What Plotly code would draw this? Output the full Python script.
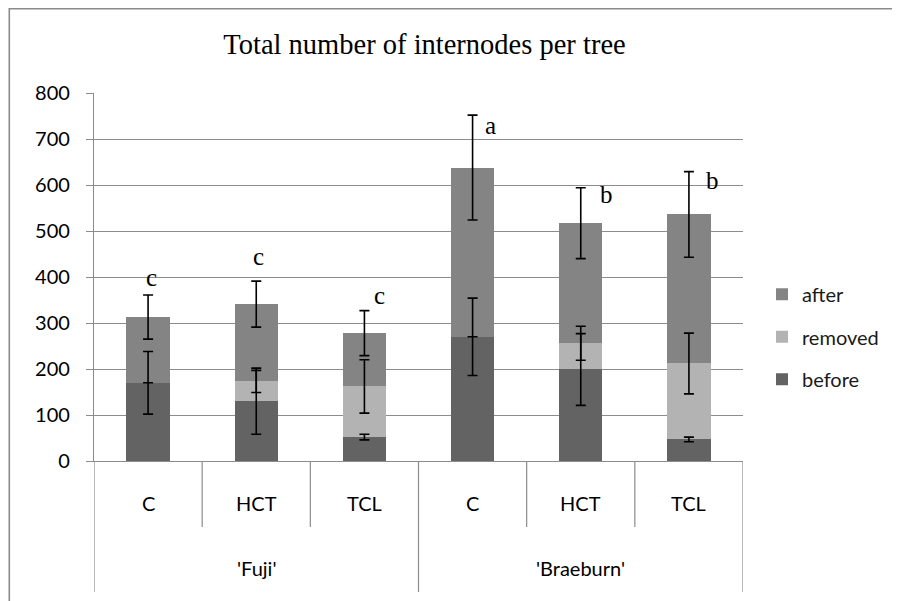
import plotly.graph_objects as go

# ---- data ----
cultivars = ["'Fuji'", "'Braeburn'"]
treatments = ["C", "HCT", "TCL"]
categories = ["Fuji C", "Fuji HCT", "Fuji TCL", "Braeburn C", "Braeburn HCT", "Braeburn TCL"]

before = [170, 130, 52, 270, 199, 47]
before_err = [68, 72, 6, 84, 78, 5]
removed = [0, 43, 110, 0, 57, 165]
removed_err = [0, 24, 58, 0, 37, 66]
after = [143, 168, 116, 368, 261, 324]
after_err = [48, 50, 49, 114, 77, 93]

letters = ["c", "c", "c", "a", "b", "b"]
letter_y = [400, 445, 360, 730, 580, 610]
letter_dx = [3, 2, 15, 18, 26, 24]

y_ticks = [0, 100, 200, 300, 400, 500, 600, 700, 800]

COL_BEFORE = "#636363"
COL_REMOVED = "#b3b3b3"
COL_AFTER = "#848484"
GRID = "#8c8c8c"
FONT = "Lato"
SERIF = "Liberation Serif"

# ---- layout geometry ----
# the page has an 8px body margin, so the figure starts at page (8, 8)
OFF = 8
W, H = 900 - OFF, 601 - OFF
L, T = 94 - OFF, 93 - OFF
plot_w, plot_h = 649, 368
R = W - L - plot_w
B = H - T - plot_h
BOTTOM = 461  # page y of the plot bottom


def py(p):
    """page pixel y -> paper y"""
    return (BOTTOM - p) / plot_h


def px(p):
    """page pixel x -> paper x"""
    return (p - 94) / plot_w


fig = go.Figure()

series = [("before", before, before_err, COL_BEFORE, 3),
          ("removed", removed, removed_err, COL_REMOVED, 2),
          ("after", after, after_err, COL_AFTER, 1)]

for name, vals, _, col, rank in series:
    fig.add_trace(go.Bar(name=name, x=categories, y=vals, marker_color=col,
                         marker_line_width=0, legendgroup=name, legendrank=rank,
                         hoverinfo="x+y+name"))

# error bars drawn above all bars, at the stacked top of each segment
cum = [0] * len(categories)
for name, vals, errs, _, _ in series:
    cum = [c + v for c, v in zip(cum, vals)]
    fig.add_trace(go.Scatter(x=categories, y=cum, mode="markers",
                             marker=dict(size=1, opacity=0), showlegend=False,
                             hoverinfo="skip",
                             error_y=dict(type="data", array=errs, visible=True,
                                          color="black", thickness=1.6, width=5)))

annotations = []
# significance letters
for i, (lt, yv, dx) in enumerate(zip(letters, letter_y, letter_dx)):
    annotations.append(dict(x=i, y=yv, xref="x", yref="y", text=lt, showarrow=False,
                            xshift=dx, font=dict(family=SERIF, size=25, color="black"),
                            xanchor="center", yanchor="middle"))
# treatment labels
for i in range(len(categories)):
    annotations.append(dict(x=i, y=py(503), xref="x", yref="paper",
                            text=treatments[i % 3], showarrow=False,
                            font=dict(family=FONT, size=20, color="black"),
                            xanchor="center", yanchor="middle"))
# cultivar labels
for g, name in enumerate(cultivars):
    annotations.append(dict(x=g * 3 + 1, y=py(568), xref="x", yref="paper",
                            text=name, showarrow=False,
                            font=dict(family=FONT, size=20, color="black"),
                            xanchor="center", yanchor="middle"))

shapes = []
# inner dividers
for b in [0.5, 1.5, 3.5, 4.5]:
    shapes.append(dict(type="line", xref="x", yref="paper", x0=b, x1=b,
                       y0=0, y1=py(527), line=dict(color=GRID, width=1.2)))
# outer dividers
for b in [-0.5, 2.5, 5.5]:
    shapes.append(dict(type="line", xref="x", yref="paper", x0=b, x1=b,
                       y0=0, y1=py(592), line=dict(color=GRID, width=1.2)))
# chart border (cut off on right and bottom)
shapes.append(dict(type="rect", xref="paper", yref="paper",
                   x0=px(9.3), x1=px(930), y0=py(640), y1=py(8.8),
                   line=dict(color="#8a8a8a", width=1.6), fillcolor="rgba(0,0,0,0)",
                   layer="below"))

fig.update_layout(
    width=W, height=H,
    margin=dict(l=L, r=R, t=T, b=B, pad=0),
    paper_bgcolor="white", plot_bgcolor="white",
    barmode="stack", bargap=0.6,
    title=dict(text="Total number of internodes per tree",
               font=dict(family=SERIF, size=28.5, color="black"),
               x=(424.5 - OFF) / W, xref="container", xanchor="center",
               y=1 - 36 / H, yref="container", yanchor="middle"),
    showlegend=True,
    legend=dict(x=px(754 + OFF), y=py(336.7), xanchor="left", yanchor="middle",
                traceorder="grouped", tracegroupgap=13.5,
                font=dict(family=FONT, size=20, color="#1a1a1a"),
                bgcolor="rgba(0,0,0,0)"),
    annotations=annotations,
    shapes=shapes,
    xaxis=dict(type="category", range=[-0.5, 5.5], showticklabels=False, ticks="",
               showgrid=False, showline=True, linecolor=GRID, linewidth=1.2,
               zeroline=False, fixedrange=True),
    yaxis=dict(range=[0, 800], tickvals=y_ticks, showgrid=True, gridcolor=GRID,
               gridwidth=1.2, showline=True, linecolor=GRID, linewidth=1.2,
               ticks="outside", ticklen=7, tickcolor=GRID, tickwidth=1.2,
               zeroline=False, ticklabelstandoff=12,
               tickfont=dict(family=FONT, size=20, color="black")),
)

fig.write_html("out.html")
